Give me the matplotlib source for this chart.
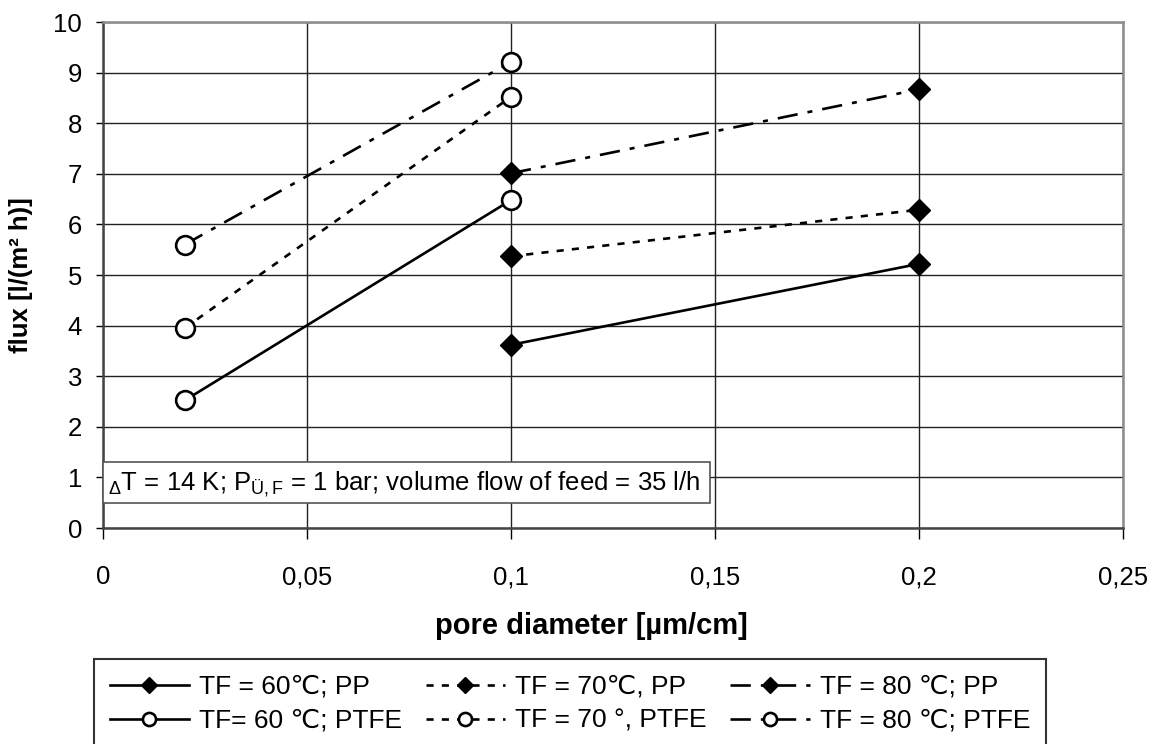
import numpy as np
import matplotlib
matplotlib.use("Agg")
import matplotlib.pyplot as plt
from matplotlib.patches import Rectangle

plt.rcParams['font.family'] = ['Liberation Sans', 'DejaVu Sans']
plt.rcParams['mathtext.fontset'] = 'custom'
plt.rcParams['mathtext.rm'] = 'Liberation Sans'
plt.rcParams['mathtext.it'] = 'Liberation Sans'

# pore diameters for the two membrane types
x_ptfe = [0.02, 0.1]
x_pp = [0.1, 0.2]

# flux values
pp60 = [3.62, 5.22]
pp70 = [5.37, 6.29]
pp80 = [7.01, 8.67]
ptfe60 = [2.52, 6.48]
ptfe70 = [3.95, 8.52]
ptfe80 = [5.60, 9.21]

labels_pp = ['TF = 60\u2103; PP', 'TF = 70\u2103, PP', 'TF = 80 \u2103; PP']
labels_ptfe = ['TF= 60 \u2103; PTFE', 'TF = 70 \u00b0, PTFE', 'TF = 80 \u2103; PTFE']

xticks = [0, 0.05, 0.1, 0.15, 0.2, 0.25]
xticklabels = ['0', '0,05', '0,1', '0,15', '0,2', '0,25']
yticks = list(range(0, 11))

styles = ['-', (0, (2.7, 3.1)), (0, (7.7, 3.8, 1.9, 3.8))]
FS = 18.5

fig = plt.figure(figsize=(11.56, 7.44), dpi=100)
ax = fig.add_axes([103/1156, 1 - 528/744, 1020/1156, 506/744])

handles = []
for ys_pp, ys_pt, ls, lpp, lpt in zip([pp60, pp70, pp80], [ptfe60, ptfe70, ptfe80],
                                      styles, labels_pp, labels_ptfe):
    h1, = ax.plot(x_pp, ys_pp, color='black', lw=1.9, linestyle=ls,
                  marker='D', markersize=11, markerfacecolor='black',
                  markeredgecolor='black', label=lpp, zorder=3)
    h2, = ax.plot(x_ptfe, ys_pt, color='black', lw=1.9, linestyle=ls,
                  marker='o', markersize=13.5, markerfacecolor='white',
                  markeredgecolor='black', markeredgewidth=1.9, label=lpt, zorder=4)
    handles += [h1, h2]

ax.set_xlim(0, 0.25)
ax.set_ylim(0, 10)
ax.set_xticks(xticks)
ax.set_xticklabels(xticklabels)
ax.set_yticks(yticks)
ax.tick_params(axis='x', direction='out', length=8, width=1, pad=19, labelsize=FS)
ax.tick_params(axis='y', direction='out', length=5, width=1, pad=10, labelsize=FS)
ax.grid(True, color='#222222', linewidth=1)
ax.set_axisbelow(True)

for s in ['top', 'right']:
    ax.spines[s].set_color('#8c8c8c')
    ax.spines[s].set_linewidth(1.8)
for s in ['left', 'bottom']:
    ax.spines[s].set_color('#444444')
    ax.spines[s].set_linewidth(1.8)

ax.set_xlabel('pore diameter [\u00b5m/cm]', fontsize=21, fontweight='bold')
ax.xaxis.set_label_coords(0.479, -0.166)
ax.set_ylabel('flux [l/(m\u00b2 h)]', fontsize=FS, fontweight='bold')
ax.yaxis.set_label_coords(-0.069, 0.5)

# info box
ax.text(0.005, 0.087,
        r'$_{\Delta}$T = 14 K; P$_{\mathrm{Ü,F}}$ = 1 bar; volume flow of feed = 35 l/h',
        transform=ax.transAxes, fontsize=FS, va='center', ha='left', zorder=6)
ax.add_patch(Rectangle((0, 0.049), 0.595, 0.081, transform=ax.transAxes,
                       facecolor='white', edgecolor='#555555', lw=1.2,
                       zorder=5, clip_on=False))

leg = fig.legend(handles=handles, ncol=3, loc='upper left',
                 bbox_to_anchor=(94/1156, 1 - 659/744, 952/1156, 0.0),
                 mode='expand', fontsize=19, frameon=True, fancybox=False,
                 edgecolor='black', handlelength=3.0, handletextpad=0.38,
                 columnspacing=0.8, borderaxespad=0, markerscale=0.7,
                 labelspacing=0.38, borderpad=0.6)
leg.get_frame().set_linewidth(1.5)

fig.savefig('out.png', dpi=100)
